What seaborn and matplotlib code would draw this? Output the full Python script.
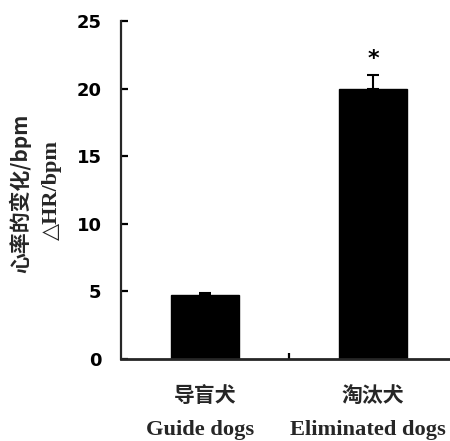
import matplotlib
matplotlib.use("Agg")
import matplotlib.pyplot as plt
import matplotlib.transforms as mtransforms
import seaborn as sns
import pandas as pd

# Data
groups_cn = ["导盲犬", "淘汰犬"]
groups_en = ["Guide dogs", "Eliminated dogs"]
delta_hr = [4.7, 20.0]
delta_hr_err = [0.15, 1.0]
y_ticks = [0, 5, 10, 15, 20, 25]

sns.set_theme(style="ticks")
plt.rcParams["font.family"] = ["DejaVu Sans"]

df = pd.DataFrame({"group": groups_cn, "value": delta_hr})

fig = plt.figure(figsize=(4.5, 4.41), dpi=100)
ax = fig.add_axes([121 / 450, 82 / 441, 336 / 450, 338 / 441])

sns.barplot(data=df, x="group", y="value", color="black", width=0.41,
            errorbar=None, saturation=1, ax=ax)
for p in ax.patches:
    p.set_edgecolor("black")

# upward error bars only
ax.errorbar(range(len(delta_hr)), delta_hr,
            yerr=[[0] * len(delta_hr), delta_hr_err],
            fmt="none", ecolor="black", elinewidth=1.5, capsize=4, capthick=1.5)

ax.set_xlim(-0.5, 1.5)
ax.set_ylim(0, 25)
ax.set_yticks(y_ticks)
ax.set_yticklabels([str(t) for t in y_ticks], fontsize=13, fontweight="heavy")
ax.set_xticks([0.5])
ax.set_xticklabels([""])
ax.set_xlabel("")
ax.set_ylabel("")

for side in ("top", "right"):
    ax.spines[side].set_visible(False)
ax.spines["left"].set_linewidth(1.6)
ax.spines["bottom"].set_linewidth(2.0)
ax.tick_params(axis="y", direction="in", length=5, width=1.6, pad=14, colors="black")
ax.tick_params(axis="x", direction="in", length=4.5, width=1.6, colors="black")

# two-line category labels below the axis
trans = mtransforms.blended_transform_factory(ax.transData, fig.transFigure)
en_trans = trans + mtransforms.ScaledTranslation(-0.05, 0, fig.dpi_scale_trans)
for i, (cn, en) in enumerate(zip(groups_cn, groups_en)):
    ax.text(i, 1 - 395 / 441, cn, transform=trans, ha="center", va="center",
            fontsize=15, fontweight="heavy",
            family=["Noto Sans CJK SC", "DejaVu Sans"])
    ax.text(i, 1 - 430 / 441, en, transform=en_trans, ha="center", va="center",
            fontsize=16.2, fontweight="bold", family=["Liberation Serif"])

# significance mark
ax.text(1, delta_hr[1] + delta_hr_err[1] + 1.2, "*", ha="center", va="center",
        fontsize=16, fontweight="bold", color="black")

# y-axis title on two lines
fig.text(20 / 450, 1 - 193 / 441, "心率的变化/bpm", rotation=90, ha="center",
         va="center", fontsize=15, fontweight="heavy",
         family=["Noto Sans CJK SC", "DejaVu Sans"])
fig.text(52 / 450, 1 - 190 / 441, "△HR/bpm", rotation=90, ha="center",
         va="center", fontsize=16, fontweight="bold",
         family=["Liberation Serif", "DejaVu Sans"])

fig.savefig("out.png", dpi=100, facecolor="white")
